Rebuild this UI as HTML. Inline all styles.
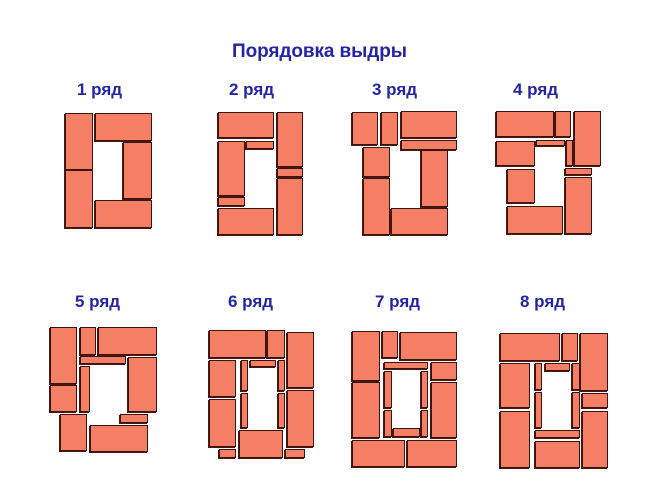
<!DOCTYPE html>
<html><head><meta charset="utf-8"><style>
html,body{margin:0;padding:0;background:#fff}
svg{display:block}
text{font-family:"Liberation Sans","DejaVu Sans",sans-serif;font-weight:bold;fill:#2424a6}
</style></head><body>
<svg id="s" width="671" height="503" viewBox="0 0 671 503" xmlns="http://www.w3.org/2000/svg">
<rect width="671" height="503" fill="#fff"/>
<text x="232" y="57" font-size="19" textLength="175">Порядовка выдры</text>
<text x="77" y="95" font-size="17">1 ряд</text>
<text x="229" y="95" font-size="17">2 ряд</text>
<text x="372" y="95" font-size="17">3 ряд</text>
<text x="513" y="95" font-size="17">4 ряд</text>
<text x="75" y="307" font-size="17">5 ряд</text>
<text x="228" y="307" font-size="17">6 ряд</text>
<text x="375" y="307" font-size="17">7 ряд</text>
<text x="520" y="307" font-size="17">8 ряд</text>
<g id="b"></g>
</svg>
<script>
var B=[
[65,113,93,170],[65,170,93,228],[95,113,152,141],[123,142,152,199],[95,200,152,228],
[218,112,274,138],[277,112,303,167],[277,168,303,177],[277,178,303,235],[218,141,245,196],[218,197,245,206],[218,208,274,235],[246,141,274,149],
[352,112,378,145],[381,112,398,145],[401,111,457,138],[401,140,457,150],[363,147,390,177],[363,178,390,235],[421,150,448,207],[391,208,448,235],
[496,111,554,137],[555,111,571,137],[574,111,601,166],[496,141,535,166],[536,140,565,146],[566,140,573,166],[507,169,535,203],[565,168,592,175],[565,177,592,234],[507,206,563,234],
[50,327,77,384],[50,385,77,412],[80,327,96,355],[98,327,157,355],[80,356,126,364],[80,366,90,412],[128,357,157,412],[60,414,87,451],[90,425,148,452],[120,414,148,423],
[209,330,266,358],[267,330,285,358],[287,332,314,388],[287,390,314,447],[209,360,236,397],[209,399,236,447],[241,360,248,391],[241,393,248,428],[250,360,276,367],[278,360,285,391],[278,393,285,428],[239,430,283,458],[219,449,236,458],[285,449,305,458],
[352,331,380,381],[352,382,380,438],[382,331,398,358],[400,332,457,360],[384,362,428,369],[431,362,457,380],[431,382,457,438],[384,371,392,408],[384,410,392,437],[421,371,428,408],[421,410,428,437],[393,428,420,437],[352,440,405,467],[407,440,457,467],
[500,333,560,361],[562,333,578,361],[580,333,608,391],[500,363,530,408],[500,411,530,468],[535,363,542,390],[535,392,542,428],[545,363,570,371],[572,363,580,390],[572,392,580,428],[582,393,608,408],[582,411,608,468],[535,430,580,438],[535,441,580,468]
];
var g=document.getElementById('b'),h='';
B.forEach(function(r){var w=r[2]-r[0],t=r[3]-r[1];
h+='<rect x="'+(r[0]-1)+'" y="'+(r[1]+1)+'" width="'+w+'" height="'+t+'" fill="#4a1810"/>';
h+='<rect x="'+(r[0]+0.5)+'" y="'+(r[1]+0.5)+'" width="'+(w-1)+'" height="'+(t-1)+'" fill="#f57f65" stroke="#3a1410" stroke-width="1"/>';});
g.innerHTML=h;
</script>
</body></html>
